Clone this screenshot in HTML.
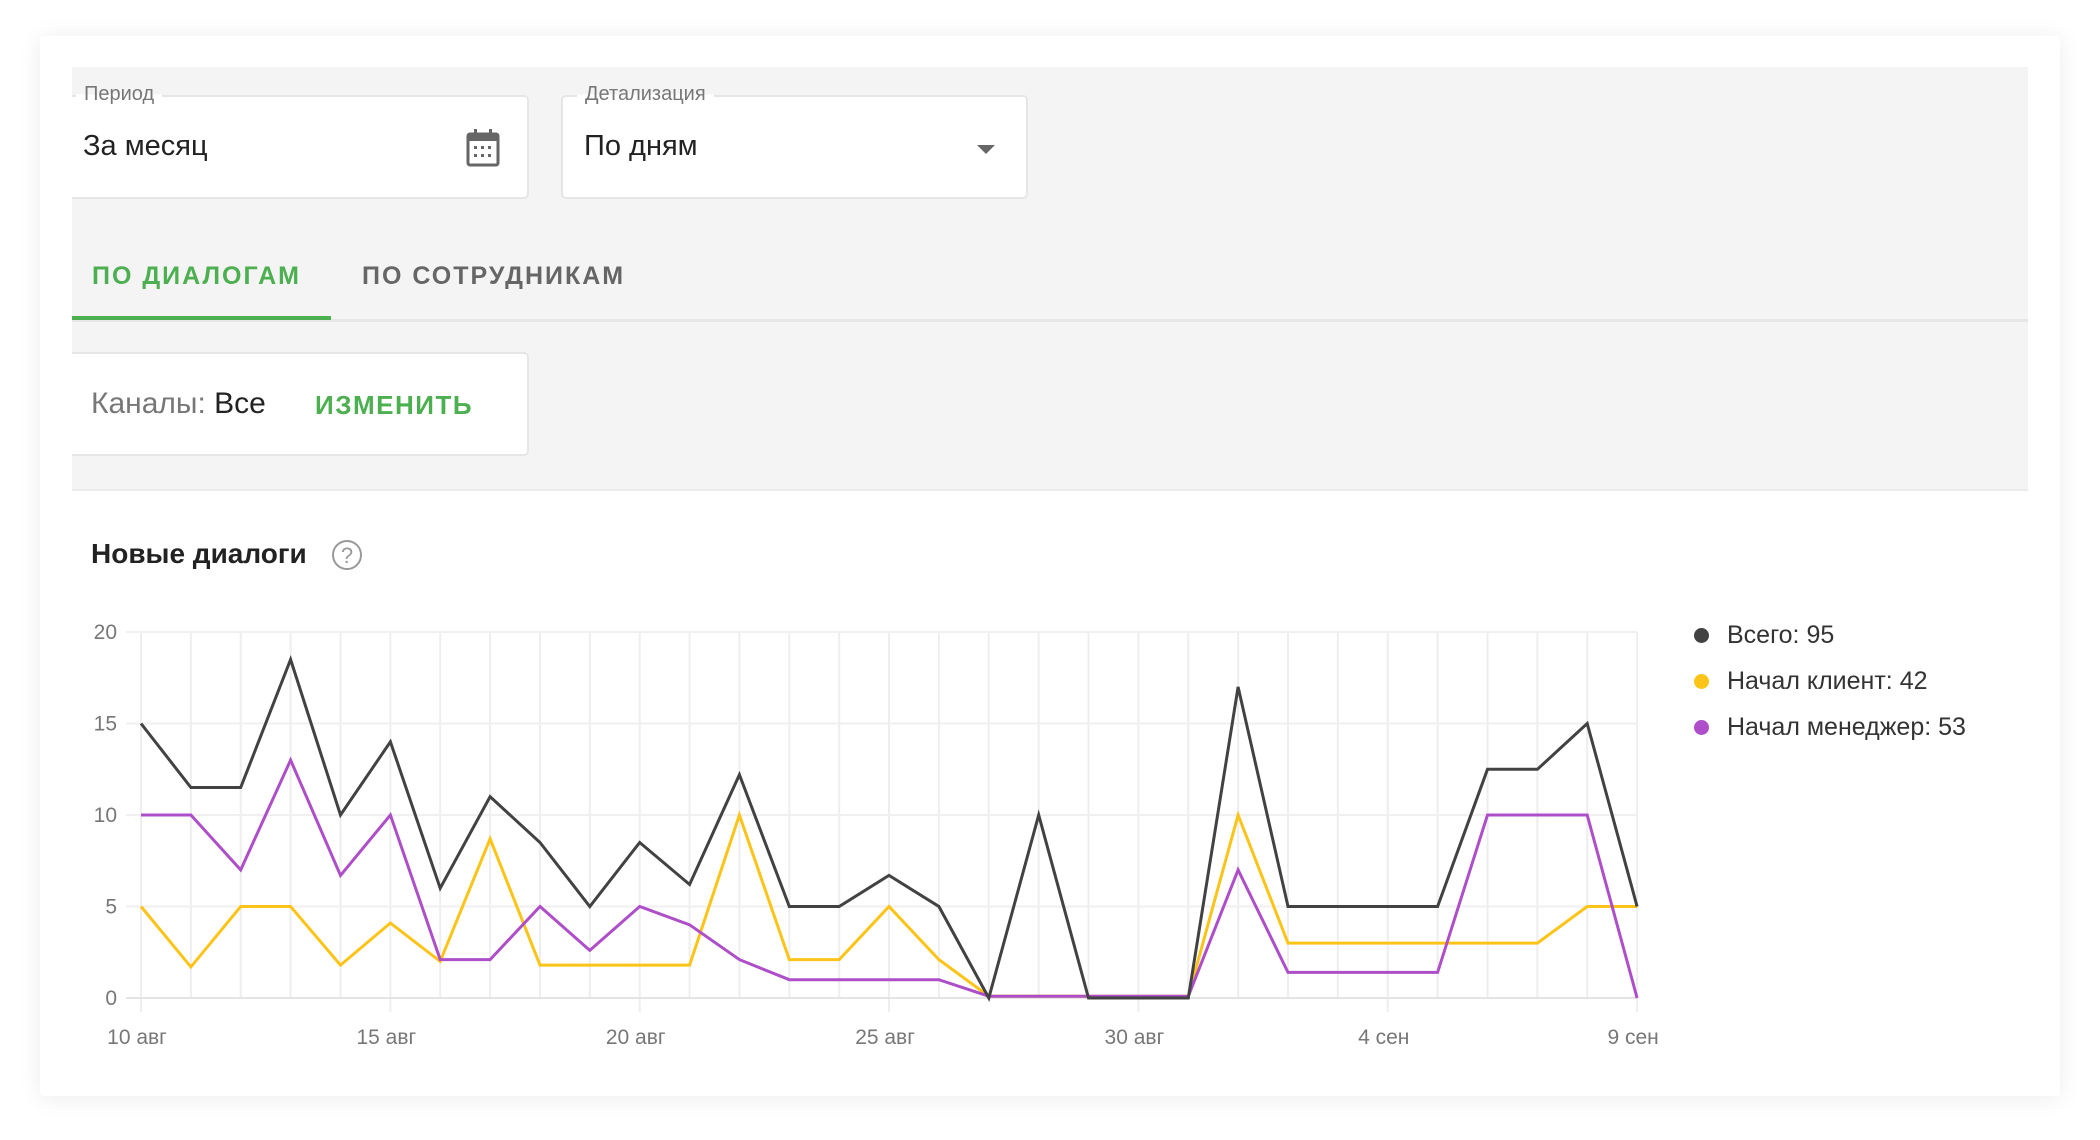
<!DOCTYPE html>
<html><head><meta charset="utf-8"><style>
body{margin:0;width:2100px;height:1140px;background:#fff;font-family:"Liberation Sans",sans-serif;position:relative;overflow:hidden}
.card{position:absolute;left:40px;top:36px;width:2020px;height:1060px;background:#fff;box-shadow:0 2px 24px rgba(0,0,0,0.08);border-radius:4px}
.gray{position:absolute;left:72px;top:67px;width:1956px;height:422px;background:#f4f4f4;border-bottom:2px solid #ebebeb}
.box{position:absolute;background:#fff;border:2px solid #e6e6e6;border-radius:5px;box-sizing:border-box}
.lbl{position:absolute;top:-14px;padding:0 8px;font-size:20px;color:#777;background:linear-gradient(#f4f4f4 50%,#fff 50%)}
.val{position:absolute;font-size:29px;color:#222}
.t{position:absolute;white-space:nowrap}
</style></head><body>
<div class="card"></div>
<div class="gray"></div>
<div class="box" style="left:72px;top:95px;width:457px;height:104px;border-left:none;border-radius:0 5px 5px 0">
  <div class="lbl" style="left:4px">Период</div>
  <div class="val" style="left:11px;top:33px">За месяц</div>
  <svg style="position:absolute;left:394px;top:32px" width="34" height="38" viewBox="0 0 34 38"><rect x="2" y="5" width="30" height="31" rx="2" fill="none" stroke="#666" stroke-width="3"/><rect x="2" y="5" width="30" height="7" fill="#666"/><rect x="8" y="0" width="3" height="8" fill="#666"/><rect x="23" y="0" width="3" height="8" fill="#666"/><g fill="#666"><rect x="8" y="17" width="3" height="3"/><rect x="15" y="17" width="3" height="3"/><rect x="22" y="17" width="3" height="3"/><rect x="8" y="25" width="3" height="3"/><rect x="15" y="25" width="3" height="3"/><rect x="22" y="25" width="3" height="3"/></g></svg>
</div>
<div class="box" style="left:561px;top:95px;width:467px;height:104px">
  <div class="lbl" style="left:14px">Детализация</div>
  <div class="val" style="left:21px;top:33px">По дням</div>
  <div style="position:absolute;left:414px;top:48px;width:0;height:0;border-left:9px solid transparent;border-right:9px solid transparent;border-top:9px solid #666"></div>
</div>
<div class="t" style="left:92px;top:262px;font-size:25px;font-weight:bold;color:#4caf50;letter-spacing:2px">ПО ДИАЛОГАМ</div>
<div class="t" style="left:362px;top:262px;font-size:25px;font-weight:bold;color:#666;letter-spacing:2px">ПО СОТРУДНИКАМ</div>
<div style="position:absolute;left:72px;top:319px;width:1956px;height:3px;background:#e6e6e6"></div>
<div style="position:absolute;left:72px;top:316px;width:259px;height:4px;background:#4caf50"></div>
<div class="box" style="left:72px;top:352px;width:457px;height:104px;border-left:none;border-radius:0 5px 5px 0">
  <div class="t" style="left:19px;top:33px;font-size:30px;color:#777">Каналы: <span style="color:#222">Все</span></div>
  <div class="t" style="left:243px;top:36px;font-size:26px;font-weight:bold;color:#4caf50;letter-spacing:1.5px">ИЗМЕНИТЬ</div>
</div>
<div class="t" style="left:91px;top:538px;font-size:28px;font-weight:bold;color:#222">Новые диалоги</div>
<svg style="position:absolute;left:330px;top:538px" width="34" height="34"><circle cx="17" cy="17" r="14" fill="none" stroke="#999" stroke-width="2"/><text x="17" y="25" text-anchor="middle" font-size="22" fill="#999" font-family="Liberation Sans">?</text></svg>
<svg id="ch" style="position:absolute;left:0;top:0" width="2100" height="1140"></svg>
<div class="t" style="left:1694px;top:612px;font-size:25px;color:#333;line-height:46px">
<div><span style="display:inline-block;width:15px;height:15px;border-radius:50%;background:#424242;margin-right:18px"></span>Всего: 95</div>
<div><span style="display:inline-block;width:15px;height:15px;border-radius:50%;background:#fcc419;margin-right:18px"></span>Начал клиент: 42</div>
<div><span style="display:inline-block;width:15px;height:15px;border-radius:50%;background:#ae4fc9;margin-right:18px"></span>Начал менеджер: 53</div>
</div>
<script>
var x0=141,dx=49.87,y0=998,dy=18.3,s='';
for(var i=0;i<31;i++){var x=x0+i*dx;s+='<line x1="'+x+'" y1="632" x2="'+x+'" y2="'+(i%5==0?1012:998)+'" stroke="#eeeeee" stroke-width="2"/>';}
for(var v=0;v<=20;v+=5){var y=y0-v*dy;s+='<line x1="126" y1="'+y+'" x2="1637" y2="'+y+'" stroke="'+(v?'#f2eff2':'#e6e3e6')+'" stroke-width="2"/><text x="117" y="'+(y+7)+'" text-anchor="end" font-size="21" fill="#777" font-family="Liberation Sans">'+v+'</text>';}
var lab=['10 авг','15 авг','20 авг','25 авг','30 авг','4 сен','9 сен'];
for(var k=0;k<7;k++){s+='<text x="'+(x0+k*5*dx-4)+'" y="1044" text-anchor="middle" font-size="21" fill="#777" font-family="Liberation Sans">'+lab[k]+'</text>';}
var T=[15,11.5,11.5,18.5,10,14,6,11,8.5,5,8.5,6.2,12.2,5,5,6.7,5,0,10,0,0,0,17,5,5,5,5,12.5,12.5,15,5];
var C=[5,1.7,5,5,1.8,4.1,2,8.7,1.8,1.8,1.8,1.8,10,2.1,2.1,5,2.1,0.1,0.1,0.1,0.1,0.1,10,3,3,3,3,3,3,5,5];
var M=[10,10,7,13,6.7,10,2.1,2.1,5,2.6,5,4,2.1,1,1,1,1,0.1,0.1,0.1,0.1,0.1,7,1.4,1.4,1.4,1.4,10,10,10,0];
function pl(a,c){return '<polyline fill="none" stroke="'+c+'" stroke-width="3" stroke-linejoin="miter" points="'+a.map(function(v,i){return (x0+i*dx).toFixed(1)+','+(y0-v*dy).toFixed(1)}).join(' ')+'"/>';}
s+=pl(C,'#fcc419')+pl(M,'#ae4fc9')+pl(T,'#424242');
document.getElementById('ch').innerHTML=s;
</script>
</body></html>
